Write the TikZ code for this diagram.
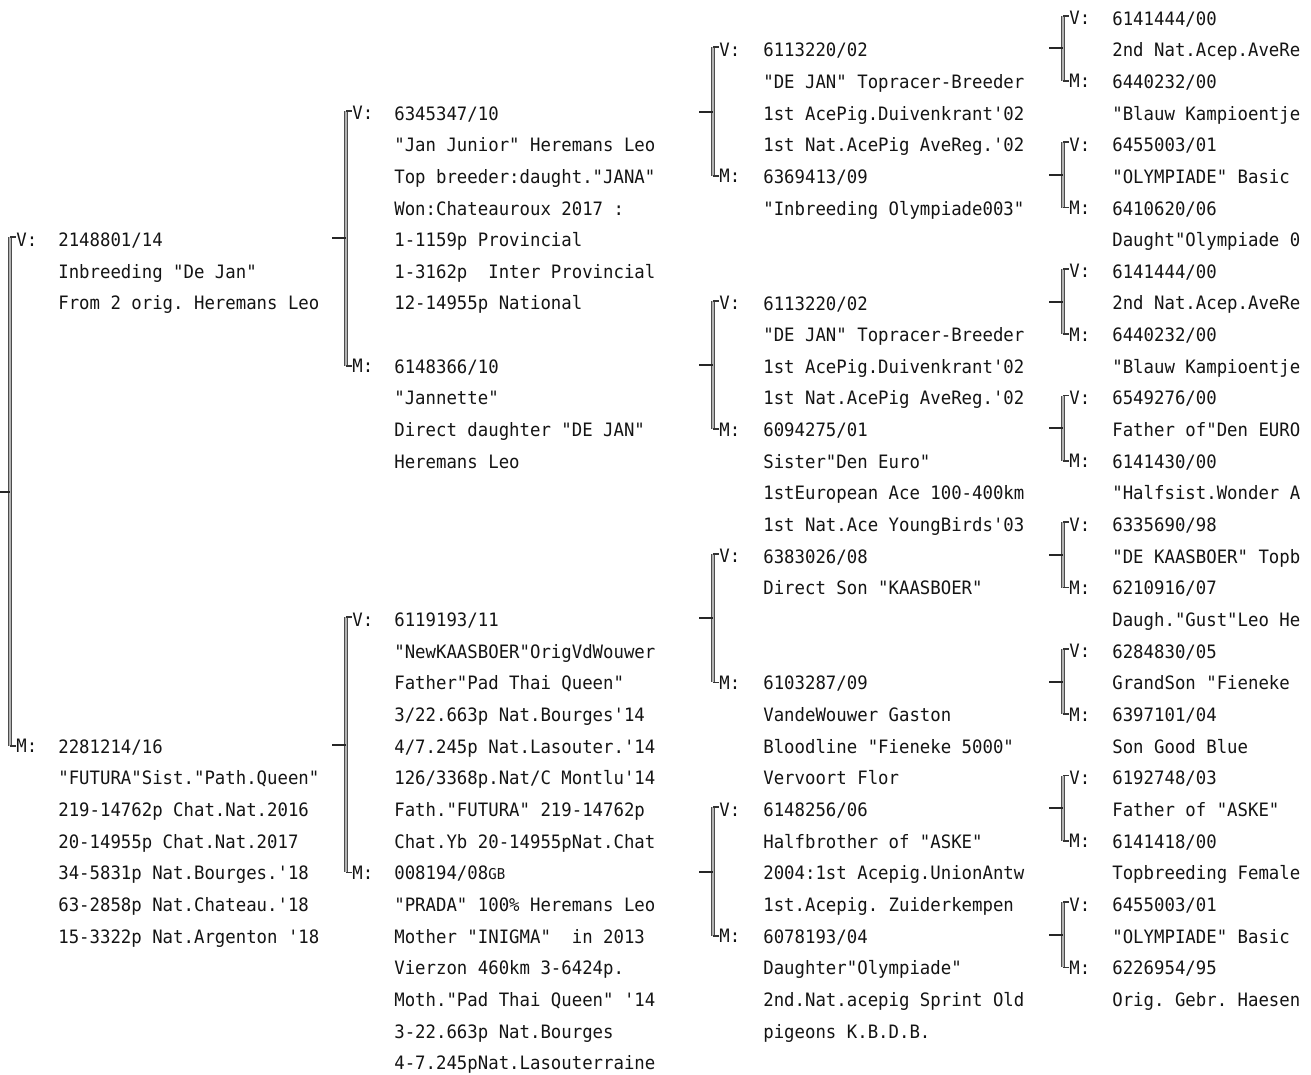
\documentclass[tikz,border=0pt]{standalone}
\usepackage{fontspec}
\setmonofont[FakeStretch=0.94]{DejaVu Sans Mono}
\usetikzlibrary{calc}
\newcommand\pedfont{\ttfamily\fontsize{10.5pt}{18.02pt}\selectfont}
\newcommand\pedstrut{\rule{0pt}{10pt}}

\begin{document}
\frenchspacing
\begin{tikzpicture}[x=0.02cm, y=-0.6334cm,
		txt/.style={anchor=north west, yshift=7.7pt, inner sep=0pt, align=left, font=\pedfont, text=black!92, execute at begin node=\pedstrut},
		tag/.style={anchor=base west, inner sep=0pt, font=\pedfont, text=black!92},
		brk/.style={draw=black!70, line width=0.4pt, double=black!30, double distance=1.4pt},
		tick/.style={draw=black!80, line width=1pt},
		stub/.style={draw=black!85, line width=1.1pt}]
		\useasboundingbox (0,-0.774) rectangle (1311,33.17);
		\clip (0,-0.774) rectangle (1311,33.17);
		\foreach \id/\xv/\r/\n in {S/10/7/16, V/346/3/8, M/346/19/8,
				VV/713/1/4, VM/713/9/4, MV/713/17/4, MM/713/25/4,
				VVV/1063/0/2, VVM/1063/4/2, VMV/1063/8/2, VMM/1063/12/2,
				MVV/1063/16/2, MVM/1063/20/2, MMV/1063/24/2, MMM/1063/28/2}{
			\coordinate (\id-top) at (\xv,\r-0.28);
			\coordinate (\id-bot) at (\xv,\r+\n-0.22);
			\coordinate (\id-mid) at ($(\id-top)!0.5!(\id-bot)$);
			\coordinate (\id-in) at ($(\id-mid)+(-14,0)$);
			\node[tag] (\id-v) at (\xv+6,\r) {V:};
			\node[tag] (\id-m) at (\xv+6,\r+\n) {M:};
			\draw[brk] (\id-top) -- (\id-bot);
			\draw[tick] (\id-top) -- (\id-top -| \id-v.west);
			\draw[tick] (\id-bot) -- (\id-bot -| \id-m.west);
			\draw[stub] (\id-in) -- (\id-mid);
		}
		\node[txt] (V) at (58,7) {2148801/14\\Inbreeding "De Jan"\\From 2 orig. Heremans Leo};
		\node[txt] (M) at (58,23) {2281214/16\\"FUTURA"Sist."Path.Queen"\\219-14762p Chat.Nat.2016\\20-14955p Chat.Nat.2017\\34-5831p Nat.Bourges.'18\\63-2858p Nat.Chateau.'18\\15-3322p Nat.Argenton '18};
		\node[txt] (VV) at (394,3) {6345347/10\\"Jan Junior" Heremans Leo\\Top breeder:daught."JANA"\\Won:Chateauroux 2017 :\\1-1159p Provincial\\1-3162p\ \ Inter Provincial\\12-14955p National};
		\node[txt] (VM) at (394,11) {6148366/10\\"Jannette"\\Direct daughter "DE JAN"\\Heremans Leo};
		\node[txt] (MV) at (394,19) {6119193/11\\"NewKAASBOER"OrigVdWouwer\\Father"Pad Thai Queen"\\3/22.663p Nat.Bourges'14\\4/7.245p Nat.Lasouter.'14\\126/3368p.Nat/C Montlu'14\\Fath."FUTURA" 219-14762p\\Chat.Yb 20-14955pNat.Chat};
		\node[txt] (MM) at (394,27) {008194/08{\fontsize{8.5pt}{18.02pt}\selectfont GB}\\"PRADA" 100\% Heremans Leo\\Mother "INIGMA"\ \ in 2013\\Vierzon 460km 3-6424p.\\Moth."Pad Thai Queen" '14\\3-22.663p Nat.Bourges\\4-7.245pNat.Lasouterraine};
		\node[txt] (VVV) at (763,1) {6113220/02\\"DE JAN" Topracer-Breeder\\1st AcePig.Duivenkrant'02\\1st Nat.AcePig AveReg.'02};
		\node[txt] (VVM) at (763,5) {6369413/09\\"Inbreeding Olympiade003"};
		\node[txt] (VMV) at (763,9) {6113220/02\\"DE JAN" Topracer-Breeder\\1st AcePig.Duivenkrant'02\\1st Nat.AcePig AveReg.'02};
		\node[txt] (VMM) at (763,13) {6094275/01\\Sister"Den Euro"\\1stEuropean Ace 100-400km\\1st Nat.Ace YoungBirds'03};
		\node[txt] (MVV) at (763,17) {6383026/08\\Direct Son "KAASBOER"};
		\node[txt] (MVM) at (763,21) {6103287/09\\VandeWouwer Gaston\\Bloodline "Fieneke 5000"\\Vervoort Flor};
		\node[txt] (MMV) at (763,25) {6148256/06\\Halfbrother of "ASKE"\\2004:1st Acepig.UnionAntw\\1st.Acepig. Zuiderkempen};
		\node[txt] (MMM) at (763,29) {6078193/04\\Daughter"Olympiade"\\2nd.Nat.acepig Sprint Old\\pigeons K.B.D.B.};
		\node[txt] (VVVV) at (1112,0) {6141444/00\\2nd Nat.Acep.AveRe};
		\node[txt] (VVVM) at (1112,2) {6440232/00\\"Blauw Kampioentje};
		\node[txt] (VVMV) at (1112,4) {6455003/01\\"OLYMPIADE" Basic};
		\node[txt] (VVMM) at (1112,6) {6410620/06\\Daught"Olympiade 0};
		\node[txt] (VMVV) at (1112,8) {6141444/00\\2nd Nat.Acep.AveRe};
		\node[txt] (VMVM) at (1112,10) {6440232/00\\"Blauw Kampioentje};
		\node[txt] (VMMV) at (1112,12) {6549276/00\\Father of"Den EURO};
		\node[txt] (VMMM) at (1112,14) {6141430/00\\"Halfsist.Wonder A};
		\node[txt] (MVVV) at (1112,16) {6335690/98\\"DE KAASBOER" Topb};
		\node[txt] (MVVM) at (1112,18) {6210916/07\\Daugh."Gust"Leo He};
		\node[txt] (MVMV) at (1112,20) {6284830/05\\GrandSon "Fieneke};
		\node[txt] (MVMM) at (1112,22) {6397101/04\\Son Good Blue};
		\node[txt] (MMVV) at (1112,24) {6192748/03\\Father of "ASKE"};
		\node[txt] (MMVM) at (1112,26) {6141418/00\\Topbreeding Female};
		\node[txt] (MMMV) at (1112,28) {6455003/01\\"OLYMPIADE" Basic};
		\node[txt] (MMMM) at (1112,30) {6226954/95\\Orig. Gebr. Haesen};
	\end{tikzpicture}
\end{document}
